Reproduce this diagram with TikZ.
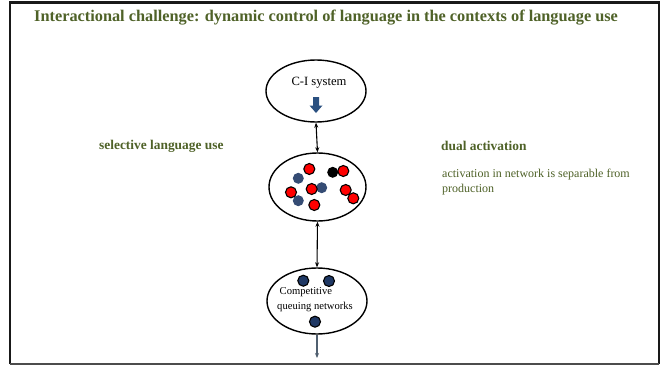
\documentclass[tikz,border=0pt]{standalone}
\usepackage{fontspec}
\setmainfont{Liberation Serif}
\usetikzlibrary{arrows.meta,shapes.geometric}
\definecolor{olivegreen}{RGB}{79,98,40}
\definecolor{navy}{RGB}{31,56,100}
\definecolor{arrowblue}{RGB}{42,80,128}
\definecolor{slate}{RGB}{80,96,112}
\begin{document}
\begin{tikzpicture}[x=1pt,y=-1pt,
  frame/.style={line width=2.4pt,black!90},
  bubble/.style={draw,ellipse,line width=1.4pt,inner sep=0pt},
  reddot/.style={circle,draw=black,line width=1.1pt,fill=red,minimum size=11pt,inner sep=0pt},
  bluedot/.style={circle,fill=navy!90,minimum size=11pt,inner sep=0pt},
  blackdot/.style={circle,fill=black,minimum size=11pt,inner sep=0pt},
  queuedot/.style={circle,draw=black,line width=1.1pt,fill=navy,minimum size=11pt,inner sep=0pt},
  heading/.style={text=olivegreen,font=\bfseries\fontsize{13.4}{15}\selectfont,inner sep=0pt},
  note/.style={text=olivegreen,font=\fontsize{12}{15.3}\selectfont,inner sep=0pt,align=left},
  inner/.style={font=\fontsize{12.6}{14}\selectfont,inner sep=0pt},
  link/.style={{Stealth[length=5pt,width=4pt]}-{Stealth[length=5pt,width=4pt]},line width=1.1pt},
]
\useasboundingbox (0,0) rectangle (665,367);
\fill[white] (0,0) rectangle (665,367);

% slide frame
\draw[frame] (10,364) -- (10,2.5) -- (659,2.5) -- (659,364);
\draw[line width=1.2pt,black!70] (10,364) -- (659,364);

% title
\node[text=olivegreen,font=\bfseries\fontsize{16.3}{18}\selectfont,anchor=west,inner sep=0pt]
  (title) at (34,18) {Interactional challenge: dynamic control of language in the contexts of language use};

% side texts
\node[heading,anchor=west] (sel) at (99,146) {selective language use};
\node[heading,anchor=west] (dual) at (441,146) {dual activation};
\node[note,anchor=north west] (sep) at (442,169) {activation in network is separable from\\production};

% C-I system
\node[bubble,minimum width=100pt,minimum height=62pt] (ci) at (316,91) {};
\node[inner] (cilabel) at (319,83) {C-I system};
\fill[arrowblue] (313,97) -- (319,97) -- (319,105.5) -- (322.5,105.5) -- (316,113) -- (309.5,105.5) -- (313,105.5) -- cycle;

% lexical network
\node[bubble,minimum width=97pt,minimum height=68pt] (net) at (317.5,187) {};
\node[bluedot] (b1) at (298.3,178.3) {};
\node[bluedot] (b2) at (321.7,187.7) {};
\node[bluedot] (b3) at (298.3,200.7) {};
\node[blackdot] (k1) at (332.7,172.3) {};
\node[reddot] (r1) at (309.3,169) {};
\node[reddot] (r2) at (343.3,171) {};
\node[reddot] (r3) at (311.7,189) {};
\node[reddot] (r4) at (291,192.3) {};
\node[reddot] (r5) at (314.3,205) {};
\node[reddot] (r6) at (345.7,190) {};
\node[reddot] (r7) at (353.3,198.3) {};

% competitive queuing
\node[bubble,minimum width=100pt,minimum height=66pt] (cq) at (317,301) {};
\node[queuedot] (q1) at (303.3,280.7) {};
\node[queuedot] (q2) at (329,281) {};
\node[queuedot] (q3) at (315,321.7) {};
\node[inner,align=left,anchor=north west,font=\fontsize{10.6}{15}\selectfont] (cqlabel) at (277,287) {\hspace*{2.5pt}Competitive\\queuing networks};

% connectors
\draw[link] (ci.south) -- (net.north);
\draw[link] (net.south) -- (cq.north);
\coordinate (out) at (317,358);
\draw[slate,line width=1.1pt,-{Stealth[length=5pt,width=4pt]}] (cq.south) -- (out);
\end{tikzpicture}
\end{document}
